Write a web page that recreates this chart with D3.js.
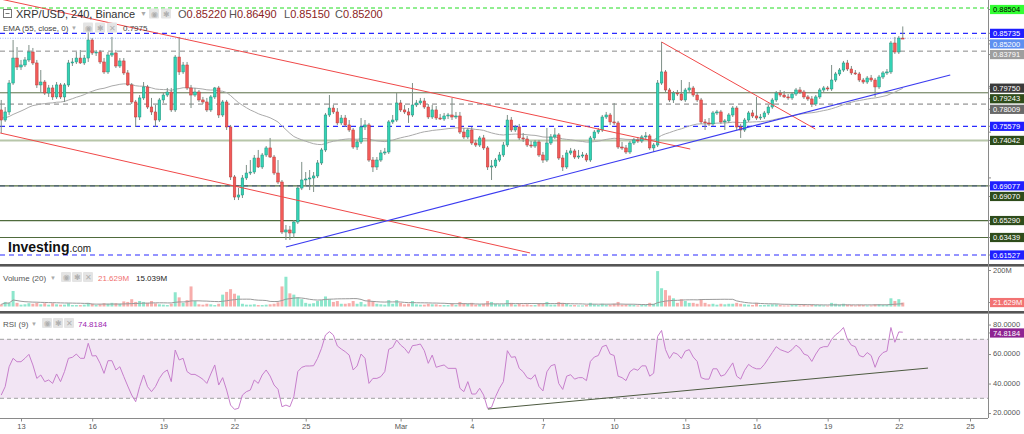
<!DOCTYPE html>
<html><head><meta charset="utf-8">
<script src="https://cdn.jsdelivr.net/npm/d3@7"></script>
<style>
body{margin:0;background:#fff;}
svg{display:block;font-family:"Liberation Sans",Arial,sans-serif;}
</style></head><body>
<svg id="c" width="1024" height="434"></svg>
<script>
// ---------- DATA ----------
const firstCandleUTC = Date.UTC(2023,1,12,4); // 4h candles
const opens = [
0.7737,0.7627,0.7715,0.8031,0.8304,0.8206,0.8228,0.8283,0.8370,0.8250,
0.8010,0.8042,0.7922,0.7977,0.7879,0.8010,0.7879,0.8010,0.8250,0.8261,
0.8304,0.8250,0.8304,0.8501,0.8359,0.8370,0.8261,0.8152,0.8337,0.8359,
0.8217,0.8272,0.8141,0.8010,0.7824,0.7660,0.7868,0.7988,0.7769,0.7715,
0.7627,0.7846,0.7900,0.7933,0.7737,0.8315,0.8152,0.8228,0.7977,0.7900,
0.7933,0.7846,0.7824,0.7737,0.7879,0.7977,0.7682,0.7824,0.7551,0.7005,
0.6786,0.6808,0.6994,0.7048,0.7059,0.7212,0.7114,0.7245,0.7322,0.7223,
0.7048,0.6950,0.6404,0.6426,0.6393,0.6513,0.6884,0.6972,0.6983,0.6994,
0.7016,0.7158,0.7300,0.7682,0.7758,0.7715,0.7595,0.7649,0.7573,0.7518,
0.7332,0.7387,0.7551,0.7573,0.7190,0.7114,0.7190,0.7267,0.7278,0.7606,
0.7627,0.7813,0.7737,0.7715,0.7682,0.7791,0.7813,0.7835,0.7769,0.7660,
0.7737,0.7649,0.7638,0.7671,0.7682,0.7660,0.7671,0.7496,0.7442,0.7518,
0.7376,0.7354,0.7431,0.7322,0.7114,0.7125,0.7190,0.7245,0.7354,0.7627,
0.7518,0.7551,0.7431,0.7420,0.7354,0.7343,0.7387,0.7245,0.7190,0.7376,
0.7442,0.7464,0.7212,0.7114,0.7267,0.7289,0.7223,0.7234,0.7245,0.7190,
0.7431,0.7496,0.7518,0.7660,0.7682,0.7606,0.7595,0.7332,0.7322,0.7278,
0.7376,0.7409,0.7398,0.7442,0.7453,0.7322,0.7354,0.8031,0.8152,0.7955,
0.7846,0.7922,0.7911,0.7846,0.7955,0.7977,0.7900,0.7846,0.7606,0.7595,
0.7584,0.7704,0.7715,0.7606,0.7617,0.7682,0.7758,0.7551,0.7518,0.7627,
0.7704,0.7671,0.7649,0.7660,0.7704,0.7769,0.7846,0.7922,0.7900,0.7879,
0.7868,0.7911,0.7955,0.7933,0.7879,0.7857,0.7802,0.7879,0.7955,0.7977,
0.7966,0.8064,0.8130,0.8173,0.8250,0.8184,0.8141,0.8130,0.8064,0.8042,
0.8086,0.8064,0.7988,0.8097,0.8141,0.8152,0.8468,0.8370,0.8522];
const highs = [
0.7846,0.7769,0.8064,0.8501,0.8424,0.8283,0.8315,0.8446,0.8414,0.8283,
0.8173,0.8064,0.8010,0.8010,0.8042,0.8031,0.8031,0.8283,0.8304,0.8370,
0.8392,0.8337,0.8588,0.8523,0.8392,0.8392,0.8304,0.8370,0.8534,0.8392,
0.8304,0.8304,0.8173,0.8031,0.7846,0.7900,0.8042,0.8010,0.7868,0.7791,
0.7868,0.7922,0.7977,0.7977,0.8337,0.8534,0.8261,0.8261,0.8010,0.7977,
0.7955,0.7879,0.7868,0.7900,0.7988,0.7999,0.7846,0.7846,0.7573,0.7026,
0.6884,0.7026,0.7136,0.7190,0.7245,0.7300,0.7267,0.7343,0.7431,0.7245,
0.7190,0.6972,0.6480,0.6470,0.6535,0.6906,0.7169,0.7059,0.7081,0.7059,
0.7190,0.7322,0.7704,0.7900,0.7791,0.7758,0.7682,0.7682,0.7627,0.7540,
0.7409,0.7649,0.7627,0.7595,0.7223,0.7223,0.7300,0.7322,0.7627,0.7682,
0.7922,0.7846,0.7791,0.7758,0.8031,0.7846,0.7868,0.7868,0.7802,0.7791,
0.7780,0.7693,0.7704,0.7704,0.7868,0.7715,0.7715,0.7540,0.7540,0.7551,
0.7409,0.7453,0.7464,0.7343,0.7190,0.7212,0.7278,0.7387,0.7682,0.7660,
0.7573,0.7584,0.7485,0.7453,0.7398,0.7409,0.7409,0.7278,0.7540,0.7474,
0.7540,0.7485,0.7245,0.7300,0.7322,0.7311,0.7300,0.7278,0.7267,0.7453,
0.7518,0.7540,0.7682,0.7715,0.7704,0.7813,0.7617,0.7387,0.7354,0.7398,
0.7431,0.7442,0.7464,0.7496,0.7474,0.7376,0.8064,0.8479,0.8173,0.7977,
0.7944,0.7955,0.8064,0.7977,0.8042,0.7999,0.7933,0.7868,0.7638,0.7649,
0.7726,0.7737,0.7737,0.7638,0.7704,0.7780,0.7780,0.7584,0.7649,0.7726,
0.7737,0.7879,0.7693,0.7726,0.7791,0.7868,0.7944,0.7955,0.7944,0.7911,
0.7933,0.7977,0.7988,0.7955,0.7900,0.7889,0.7900,0.7977,0.7999,0.7999,
0.8228,0.8152,0.8195,0.8272,0.8283,0.8217,0.8173,0.8152,0.8086,0.8108,
0.8119,0.8086,0.8119,0.8162,0.8184,0.8490,0.8534,0.8545,0.8649];
const lows = [
0.7485,0.7606,0.7682,0.8010,0.8173,0.8173,0.8206,0.8261,0.8228,0.7977,
0.7933,0.7900,0.7879,0.7846,0.7857,0.7857,0.7824,0.7988,0.8217,0.8239,
0.8239,0.8228,0.8261,0.8337,0.8326,0.8239,0.8130,0.8130,0.8315,0.8195,
0.8195,0.8119,0.7999,0.7802,0.7551,0.7627,0.7846,0.7748,0.7682,0.7551,
0.7606,0.7813,0.7879,0.7715,0.7715,0.8119,0.8130,0.7955,0.7758,0.7879,
0.7824,0.7802,0.7715,0.7715,0.7857,0.7649,0.7660,0.7518,0.6972,0.6753,
0.6753,0.6775,0.6972,0.7026,0.7037,0.7103,0.7092,0.7223,0.7212,0.7026,
0.6928,0.6382,0.6317,0.6317,0.6338,0.6491,0.6862,0.6917,0.6862,0.6841,
0.6994,0.7136,0.7278,0.7660,0.7693,0.7573,0.7573,0.7551,0.7496,0.7311,
0.7300,0.7365,0.7518,0.7169,0.7059,0.7081,0.7169,0.7245,0.7256,0.7584,
0.7606,0.7715,0.7693,0.7595,0.7660,0.7769,0.7791,0.7748,0.7638,0.7638,
0.7627,0.7627,0.7617,0.7638,0.7627,0.7638,0.7474,0.7420,0.7420,0.7354,
0.7332,0.7332,0.7300,0.7081,0.6972,0.7103,0.7169,0.7223,0.7332,0.7496,
0.7496,0.7409,0.7387,0.7332,0.7322,0.7322,0.7223,0.7158,0.7169,0.7354,
0.7420,0.7190,0.7070,0.7092,0.7245,0.7201,0.7201,0.7212,0.7169,0.7169,
0.7409,0.7474,0.7496,0.7638,0.7573,0.7573,0.7311,0.7300,0.7256,0.7256,
0.7354,0.7376,0.7376,0.7409,0.7300,0.7278,0.7332,0.8010,0.7933,0.7824,
0.7813,0.7889,0.7835,0.7824,0.7933,0.7879,0.7824,0.7584,0.7518,0.7562,
0.7562,0.7682,0.7584,0.7518,0.7595,0.7660,0.7518,0.7431,0.7496,0.7606,
0.7649,0.7627,0.7627,0.7638,0.7682,0.7748,0.7824,0.7879,0.7868,0.7846,
0.7846,0.7889,0.7911,0.7857,0.7835,0.7769,0.7780,0.7857,0.7933,0.7944,
0.7944,0.8042,0.8108,0.8152,0.8162,0.8119,0.8119,0.8042,0.8021,0.8021,
0.8042,0.7879,0.7966,0.8075,0.8119,0.8130,0.8348,0.8348,0.8515];
const closes = [
0.7627,0.7715,0.8031,0.8304,0.8206,0.8228,0.8283,0.8370,0.8250,0.8010,
0.8042,0.7922,0.7977,0.7879,0.8010,0.7879,0.8010,0.8250,0.8261,0.8304,
0.8250,0.8304,0.8501,0.8359,0.8370,0.8261,0.8152,0.8337,0.8359,0.8217,
0.8272,0.8141,0.8010,0.7824,0.7660,0.7868,0.7988,0.7769,0.7715,0.7627,
0.7846,0.7900,0.7933,0.7737,0.8315,0.8152,0.8228,0.7977,0.7900,0.7933,
0.7846,0.7824,0.7737,0.7879,0.7977,0.7682,0.7824,0.7551,0.7005,0.6786,
0.6808,0.6994,0.7048,0.7059,0.7212,0.7114,0.7245,0.7322,0.7223,0.7048,
0.6950,0.6404,0.6426,0.6393,0.6513,0.6884,0.6972,0.6983,0.6994,0.7016,
0.7158,0.7300,0.7682,0.7758,0.7715,0.7595,0.7649,0.7573,0.7518,0.7332,
0.7387,0.7551,0.7573,0.7190,0.7114,0.7190,0.7267,0.7278,0.7606,0.7627,
0.7813,0.7737,0.7715,0.7682,0.7791,0.7813,0.7835,0.7769,0.7660,0.7737,
0.7649,0.7638,0.7671,0.7682,0.7660,0.7671,0.7496,0.7442,0.7518,0.7376,
0.7354,0.7431,0.7322,0.7114,0.7125,0.7190,0.7245,0.7354,0.7627,0.7518,
0.7551,0.7431,0.7420,0.7354,0.7343,0.7387,0.7245,0.7190,0.7376,0.7442,
0.7464,0.7212,0.7114,0.7267,0.7289,0.7223,0.7234,0.7245,0.7190,0.7431,
0.7496,0.7518,0.7660,0.7682,0.7606,0.7595,0.7332,0.7322,0.7278,0.7376,
0.7409,0.7398,0.7442,0.7453,0.7322,0.7354,0.8031,0.8152,0.7955,0.7846,
0.7922,0.7911,0.7846,0.7955,0.7977,0.7900,0.7846,0.7606,0.7595,0.7584,
0.7704,0.7715,0.7606,0.7617,0.7682,0.7758,0.7551,0.7518,0.7627,0.7704,
0.7671,0.7649,0.7660,0.7704,0.7769,0.7846,0.7922,0.7900,0.7879,0.7868,
0.7911,0.7955,0.7933,0.7879,0.7857,0.7802,0.7879,0.7955,0.7977,0.7966,
0.8064,0.8130,0.8173,0.8250,0.8184,0.8141,0.8130,0.8064,0.8042,0.8086,
0.8064,0.7988,0.8097,0.8141,0.8152,0.8468,0.8370,0.8522,0.8520];
const volumes = [ // millions
12,25,20,85,20,10,12,18,15,20, 12,18,10,18,12,10,10,18,8,8,
8,10,20,15,8,12,18,15,20,18, 15,28,25,40,25,30,25,20,30,17,
12,10,8,15,78,50,20,35,110,30, 12,10,15,12,8,15,65,80,95,70,
60,15,10,10,12,8,8,10,12,15, 23,110,163,72,65,50,40,20,15,18,
30,35,55,40,25,30,15,15,18,30, 15,25,12,40,30,15,12,10,35,15,
35,20,12,15,30,12,10,10,15,12, 12,8,8,8,15,8,25,15,15,20,
10,12,15,30,25,15,12,12,35,20, 10,15,10,12,8,8,18,15,25,10,
10,25,20,15,8,8,6,6,8,20, 12,8,15,10,10,15,25,10,10,10,
8,6,8,8,20,15,194,100,90,60, 45,20,40,30,20,20,15,40,20,12,
15,10,15,12,15,15,20,15,12,10, 8,20,8,8,10,12,12,8,6,6,
8,8,6,8,6,10,8,8,6,5, 20,15,10,15,10,8,6,10,8,6,
6,12,12,8,8,45,30,40,21.629];
const rsiValues = [
32.2,37.9,51.4,57.1,54.8,54.8,57.1,59.8,52.6,43.5,
45.8,41.3,42.4,40.1,46.5,41.3,48.1,57.1,57.8,60.0,
57.1,57.1,67.3,58.7,58.9,53.7,46.9,55.5,55.5,49.2,
51.4,44.7,38.3,32.2,27.7,37.9,45.8,37.9,34.5,37.9,
43.5,47.4,49.2,41.3,62.7,56.0,57.1,48.1,46.2,46.2,
44.7,42.9,40.1,46.5,52.6,39.0,44.0,35.6,25.4,22.5,
23.2,32.2,34.5,35.6,42.4,40.1,45.8,49.2,45.1,39.0,
36.1,24.3,25.4,24.3,31.1,48.1,51.0,51.9,51.9,52.1,
57.1,63.9,72.9,75.2,72.9,65.5,63.4,61.6,59.3,49.2,
51.9,60.0,57.1,40.1,43.5,43.5,44.7,48.1,63.2,64.5,
69.5,66.1,63.9,60.5,65.7,66.1,66.8,62.3,53.7,59.3,
51.0,51.9,52.6,50.3,50.3,50.3,36.8,34.5,41.3,32.9,
32.9,36.8,32.2,23.2,23.9,31.1,36.8,41.3,62.3,57.8,
58.2,50.3,48,44,43,46,38,35,48,52,
53,40,36,45,46,43,44,44,42,55,
58,59,65,66,60,59,45,44,42,48,
50,49,52,52,45,47,72,76,63,57,
61,60,57,62,63,58,55,44,43,43,
50,50,45,46,50,54,45,43,49,53,
51,50,50,53,57,61,65,63,62,61,
63,66,64,60,59,55,60,64,65,65,
70,73,75,78,70,66,65,59,58,61,
59,51,58,61,62,78,68,75,74.8184];
const emaSeed = 0.7650, emaPeriod = 55, volMaPeriod = 20;
const tickDates = ["2023-02-13","2023-02-16","2023-02-19","2023-02-22","2023-02-25","2023-03-01","2023-03-04","2023-03-07","2023-03-10","2023-03-13","2023-03-16","2023-03-19","2023-03-22","2023-03-25"];
const tickLabels = ["13","16","19","22","25","Mar","4","7","10","13","16","19","22","25"];
const levelValues = [0.88504,0.85735,0.85200,0.83791,0.79750,0.79243,0.78009,0.75579,0.74042,0.69077,0.69070,0.65290,0.63439,0.61527];
const priceTicks = [0.65,0.70,0.75,0.80,0.85];
const rsiTicks = [20,40,60,80];
const volTicks = [200];
// drawn trend lines: [startTime, startValue, endTime, endValue]
const trendRedUpper = ["2023-02-12T03:00Z",0.8949,"2023-03-13T05:00Z",0.7310];
const trendRedLower = ["2023-02-12T03:00Z",0.7485,"2023-03-06T11:00Z",0.6175];
const trendBlue     = ["2023-02-24T04:00Z",0.6240,"2023-03-24T04:00Z",0.8119];
const trendRedShort = ["2023-03-12T00:00Z",0.8479,"2023-03-18T11:30Z",0.7529];
const trendRsi      = ["2023-03-04T16:20Z",22.7,"2023-03-23T05:30Z",50.5];
const header = {sym:"XRP/USD, 240, Binance", o:"0.85220", h:"0.86490", l:"0.85150", c:"0.85200",
  ema:"EMA (55, close, 0)", emaVal:"0.7975", vol:"Volume (20)", volVal:"21.629M", volMa:"15.039M",
  rsi:"RSI (9)", rsiVal:"74.8184"};

// ---------- DRAW ----------
const svg = d3.select("#c");
const AX = 988;
const dates = closes.map((_,i)=>new Date(firstCandleUTC + i*4*3600e3));
const x = d3.scaleUtc().domain([new Date("2023-02-13T00:00Z"), new Date("2023-03-25T00:00Z")]).range([21,970]);
const y = d3.scaleLinear().domain([0.61527,0.88504]).range([255,8]);
const yV = d3.scaleLinear().domain([0,200]).range([306.5,270]);
const yR = d3.scaleLinear().domain([30,70]).range([398.3,339.3]);

const defs = svg.append("defs");
defs.append("clipPath").attr("id","cm").append("rect").attr("x",0).attr("y",0).attr("width",AX).attr("height",264);
defs.append("clipPath").attr("id","cv").append("rect").attr("x",0).attr("y",267).attr("width",AX).attr("height",44);
defs.append("clipPath").attr("id","cr").append("rect").attr("x",0).attr("y",314).attr("width",AX).attr("height",104);

svg.append("rect").attr("width",1024).attr("height",434).attr("fill","#fff");

// main panel
const gm = svg.append("g").attr("clip-path","url(#cm)");
const lvlStyle = [
 {c:"#22dd22",d:"4,3",w:1},{c:"#2a2aff",d:"5,4",w:1.2},{c:"#9db5ff",d:"1,1.5",w:1},{c:"#8a8a8a",d:"5,4",w:1},
 null,{c:"#5b7048",d:null,w:1},{c:"#7a7a7a",d:"5,4",w:1},{c:"#2a2aff",d:"5,4",w:1.2},{c:"#b7c6a9",d:null,w:2},
 {c:"#2a2aff",d:"5,4",w:1},{c:"#4f6b3c",d:null,w:1.2},{c:"#4f6b3c",d:null,w:1.2},{c:"#4f6b3c",d:null,w:1.2},{c:"#2a2aff",d:"5,4",w:1.2}];
levelValues.forEach((v,i)=>{
  const s=lvlStyle[i]; if(!s) return;
  gm.append("line").attr("x1",0).attr("x2",AX).attr("y1",y(v)).attr("y2",y(v))
    .attr("stroke",s.c).attr("stroke-width",s.w).attr("stroke-dasharray",s.d);
});

// EMA
const ema=[]; const k=2/(emaPeriod+1);
closes.forEach((c,i)=>{ ema.push(i===0? emaSeed + k*(c-emaSeed) : ema[i-1]+k*(c-ema[i-1])); });
gm.append("path").datum(ema).attr("fill","none").attr("stroke","#aaaaaa").attr("stroke-width",1)
  .attr("d",d3.line().x((d,i)=>x(dates[i])).y(d=>y(d)));

// candles
const cw=2.6;
const cg = gm.append("g");
dates.forEach((d,i)=>{
  const up = closes[i]>=opens[i];
  const cx = x(d);
  cg.append("line").attr("x1",cx).attr("x2",cx).attr("y1",y(highs[i])).attr("y2",y(lows[i]))
    .attr("stroke","#7e8f87").attr("stroke-width",1);
  const top=y(Math.max(opens[i],closes[i])), bot=y(Math.min(opens[i],closes[i]));
  cg.append("rect").attr("x",cx-cw/2).attr("y",top).attr("width",cw).attr("height",Math.max(1,bot-top))
    .attr("fill",up?"#33d3b5":"#f25a58").attr("stroke",up?"#1f8f7b":"#b93b3a").attr("stroke-width",0.5);
});

// trend lines
function tl(g,arr,sc,color,w){
  g.append("line").attr("x1",x(new Date(arr[0]))).attr("y1",sc(arr[1])).attr("x2",x(new Date(arr[2]))).attr("y2",sc(arr[3]))
   .attr("stroke",color).attr("stroke-width",w||1);
}
tl(gm,trendRedUpper,y,"#f04848",1);
tl(gm,trendRedLower,y,"#f04848",1);
tl(gm,trendRedShort,y,"#f04848",1);
tl(gm,trendBlue,y,"#3b3bf0",1.2);

// header
function icon(g,x0,y0,glyph){
  g.append("rect").attr("x",x0).attr("y",y0).attr("width",10).attr("height",10).attr("fill","#e4e4e4").attr("rx",1);
  g.append("text").attr("x",x0+5).attr("y",y0+8).attr("text-anchor","middle").attr("font-size",8).attr("fill","#b0b0b0").text(glyph);
}
const gh = svg.append("g");
gh.append("rect").attr("x",3.5).attr("y",9.5).attr("width",8).attr("height",8).attr("fill","none").attr("stroke","#777");
gh.append("line").attr("x1",5.5).attr("x2",9.5).attr("y1",13.5).attr("y2",13.5).attr("stroke","#777");
gh.append("text").attr("x",16).attr("y",17.5).attr("font-size",11).attr("fill","#333").text(header.sym);
gh.append("text").attr("x",140).attr("y",16).attr("font-size",7).attr("fill","#aaa").text("▼");
icon(gh,149,8.5,"◉"); icon(gh,161,8.5,"✱");
const ohlc = [["O",header.o,178],["H",header.h,229],["L",header.l,284],["C",header.c,335]];
ohlc.forEach(([a,b,px])=>{
  const t=gh.append("text").attr("x",px).attr("y",17.5).attr("font-size",11);
  t.append("tspan").attr("fill","#555").text(a);
  t.append("tspan").attr("fill","#8b2323").text(b);
});
gh.append("text").attr("x",3).attr("y",31).attr("font-size",8).attr("fill","#444").text(header.ema);
gh.append("text").attr("x",71).attr("y",30).attr("font-size",6).attr("fill","#aaa").text("▼");
icon(gh,83,22.5,"◉"); icon(gh,95,22.5,"✱"); icon(gh,107,22.5,"✕");
gh.append("text").attr("x",123).attr("y",31).attr("font-size",8).attr("fill","#444").text(header.emaVal);

// logo
const lg = svg.append("text").attr("x",8).attr("y",252);
lg.append("tspan").attr("font-size",14).attr("font-weight","bold").attr("fill","#111").text("Investing");
lg.append("tspan").attr("font-size",10).attr("fill","#222").text(".com");

// volume panel
const gv = svg.append("g").attr("clip-path","url(#cv)");
const bw=3;
dates.forEach((d,i)=>{
  const up = closes[i]>=opens[i];
  gv.append("rect").attr("x",x(d)-bw/2).attr("y",yV(volumes[i])).attr("width",bw).attr("height",yV(0)-yV(volumes[i]))
   .attr("fill",up?"#8de6cc":"#f7adab");
});
const vma = volumes.map((v,i)=>{const s=volumes.slice(Math.max(0,i-volMaPeriod+1),i+1); return d3.mean(s);});
gv.append("path").datum(vma).attr("fill","none").attr("stroke","#9a9a9a").attr("stroke-width",1)
 .attr("d",d3.line().x((d,i)=>x(dates[i])).y(d=>yV(d)));
svg.append("text").attr("x",3).attr("y",281).attr("font-size",8).attr("fill","#555").text(header.vol);
svg.append("text").attr("x",50).attr("y",280).attr("font-size",6).attr("fill","#aaa").text("▼");
icon(svg,61,272,"◉"); icon(svg,72,272,"✱"); icon(svg,83,272,"✕");
svg.append("text").attr("x",98).attr("y",281).attr("font-size",8).attr("fill","#f07070").text(header.volVal);
svg.append("text").attr("x",136).attr("y",281).attr("font-size",8).attr("fill","#222").text(header.volMa);

// RSI panel
const gr = svg.append("g").attr("clip-path","url(#cr)");
gr.append("rect").attr("x",0).attr("width",AX).attr("y",yR(70)).attr("height",yR(30)-yR(70)).attr("fill","#f2e5f4");
[70,30].forEach(v=>gr.append("line").attr("x1",0).attr("x2",AX).attr("y1",yR(v)).attr("y2",yR(v))
  .attr("stroke","#a0a0a0").attr("stroke-dasharray","4,3"));
gr.append("path").datum(rsiValues).attr("fill","none").attr("stroke","#c77fcc").attr("stroke-width",1)
 .attr("d",d3.line().x((d,i)=>x(dates[i])).y(d=>yR(d)));
tl(gr,trendRsi,yR,"#4d5a40",1);
svg.append("text").attr("x",3).attr("y",327).attr("font-size",8).attr("fill","#555").text(header.rsi);
svg.append("text").attr("x",31).attr("y",326).attr("font-size",6).attr("fill","#aaa").text("▼");
icon(svg,42,318,"◉"); icon(svg,53,318,"✱"); icon(svg,64,318,"✕");
svg.append("text").attr("x",78).attr("y",327).attr("font-size",8).attr("fill","#9c27b0").text(header.rsiVal);

// separators
svg.append("rect").attr("x",0).attr("y",264).attr("width",1024).attr("height",2.6).attr("fill","#555");
svg.append("rect").attr("x",0).attr("y",311).attr("width",1024).attr("height",2.6).attr("fill","#555");

// price label positions (stacked so they do not overlap)
let prev=-1e9;
const order = levelValues.map((v,i)=>i).sort((a,b)=>levelValues[b]-levelValues[a]);
const labelPos = {};
order.forEach(i=>{ const cy = Math.max(Math.max(y(levelValues[i]),9.5), prev+10.6); prev=cy; labelPos[i]=cy; });
const labelYs = Object.values(labelPos);

// right axis
svg.append("line").attr("x1",AX+0.5).attr("x2",AX+0.5).attr("y1",0).attr("y2",418).attr("stroke","#8a8a8a");
function styleAxis(g){ g.select(".domain").remove(); g.selectAll("line").attr("stroke","#8a8a8a");
  g.selectAll("text").attr("fill","#555").attr("font-size",7.5).attr("font-family","Liberation Sans, Arial, sans-serif"); }
const gpa = svg.append("g").attr("transform",`translate(${AX},0)`).call(d3.axisRight(y).tickValues(priceTicks).tickFormat(d3.format(".5f")).tickSize(3).tickPadding(2)).call(styleAxis);
// tick labels hidden behind the coloured price boxes are not drawn
gpa.selectAll(".tick").each(function(d){
  if(labelYs.some(ly=>Math.abs(ly-y(d))<9)) d3.select(this).select("text").remove();
});
const gra = svg.append("g").attr("transform",`translate(${AX},0)`).call(d3.axisRight(yR).tickValues(rsiTicks).tickFormat(d3.format(".4f")).tickSize(3).tickPadding(2)).call(styleAxis);
gra.selectAll(".tick text").attr("dy","0.2em");
svg.append("g").attr("transform",`translate(${AX},0)`).call(d3.axisRight(yV).tickValues(volTicks).tickFormat(d=>d+"M").tickSize(3).tickPadding(2)).call(styleAxis);

// price labels
const lblStyle = [
 ["#33ff33","#000"],["#1f1fff","#fff"],["#5e8ff0","#fff"],["#9e9e9e","#fff"],["#3a3a3a","#fff"],["#2e4c1b","#fff"],["#6a6a6a","#fff"],
 ["#1f1fff","#fff"],["#2e4c1b","#fff"],["#1f1fff","#fff"],["#2e4c1b","#fff"],["#2e4c1b","#fff"],["#2e4c1b","#fff"],["#1f1fff","#fff"]];
const gl = svg.append("g");
function label(cy,txt,bg,fg){
  gl.append("line").attr("x1",AX).attr("x2",AX+3).attr("y1",cy).attr("y2",cy).attr("stroke","#8a8a8a");
  gl.append("rect").attr("x",AX+2).attr("y",cy-4.6).attr("width",1024-AX-2).attr("height",9.2).attr("fill",bg);
  gl.append("text").attr("x",AX+5).attr("y",cy+2.7).attr("font-size",7.5).attr("fill",fg).text(txt);
}
order.forEach(i=>label(labelPos[i],d3.format(".5f")(levelValues[i]),lblStyle[i][0],lblStyle[i][1]));
label(yV(volumes[volumes.length-1]),header.volVal,"#f27272","#fff");
label(yR(rsiValues[rsiValues.length-1])+0.8,header.rsiVal,"#8e2492","#fff");

// bottom axis
svg.append("line").attr("x1",0).attr("x2",AX).attr("y1",418.5).attr("y2",418.5).attr("stroke","#8a8a8a").attr("stroke-width",1);
const gx = svg.append("g").attr("transform","translate(0,418.5)")
 .call(d3.axisBottom(x).tickValues(tickDates.map(s=>new Date(s+"T00:00Z"))).tickFormat((d,i)=>tickLabels[i]).tickSize(3).tickPadding(2));
styleAxis(gx);
</script>
</body></html>
